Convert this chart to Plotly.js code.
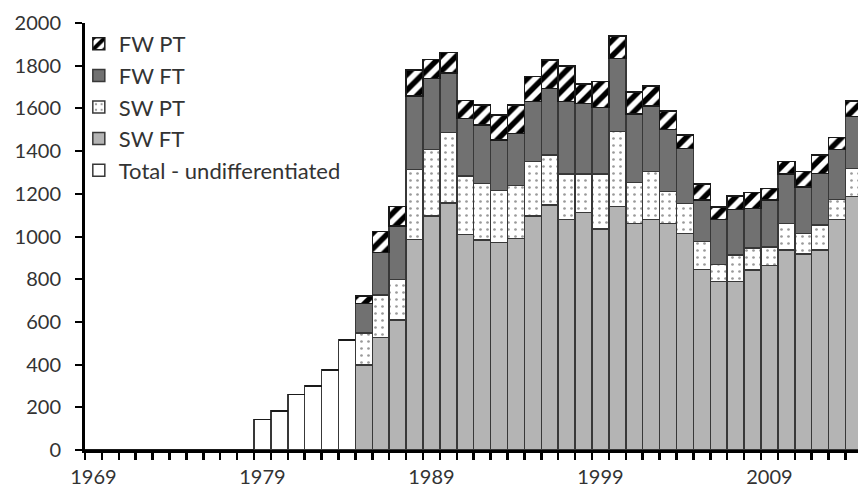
<!DOCTYPE html>
<html>
<head>
<meta charset="utf-8">
<script src="https://cdn.plot.ly/plotly-3.0.1.min.js"></script>
<style>html,body{margin:0;padding:0;background:#fff;}#chart{width:858px;height:490px;}</style>
</head>
<body>
<div id="chart"></div>
<script>
const years = [1969,1970,1971,1972,1973,1974,1975,1976,1977,1978,1979,1980,1981,1982,1983,1984,1985,1986,1987,1988,1989,1990,1991,1992,1993,1994,1995,1996,1997,1998,1999,2000,2001,2002,2003,2004,2005,2006,2007,2008,2009,2010,2011,2012,2013,2014];
const totalUndiff = [0,0,0,0,0,0,0,0,0,0,144,183,261,300,375,515,0,0,0,0,0,0,0,0,0,0,0,0,0,0,0,0,0,0,0,0,0,0,0,0,0,0,0,0,0,0];
const swFT = [0,0,0,0,0,0,0,0,0,0,0,0,0,0,0,0,398,528,609,987,1096,1158,1010,984,971,991,1096,1148,1080,1112,1034,1140,1062,1080,1062,1015,846,790,790,843,864,937,918,937,1080,1187];
const swPT = [0,0,0,0,0,0,0,0,0,0,0,0,0,0,0,0,151,198,190,328,312,328,273,265,244,247,255,234,213,181,259,351,192,224,148,140,130,79,123,102,88,125,97,117,94,132];
const fwFT = [0,0,0,0,0,0,0,0,0,0,0,0,0,0,0,0,137,198,250,343,333,281,270,273,237,245,281,312,339,331,312,343,320,307,292,258,195,210,214,187,219,231,218,242,234,242];
const fwPT = [0,0,0,0,0,0,0,0,0,0,0,0,0,0,0,0,35,99,91,122,89,96,83,94,117,133,117,133,167,90,120,105,104,94,87,62,75,60,63,73,54,58,71,86,56,74];
const xLabels = [1969,1979,1989,1999,2009];

const lineStyle = {color:'#383838', width:1.5};
const traces = [
  {name:'Total - undifferentiated', y: totalUndiff, marker:{color:'#ffffff', line:lineStyle}},
  {name:'SW FT', y: swFT, marker:{color:'#b4b4b4', line:lineStyle}},
  {name:'SW PT', y: swPT, marker:{color:'#ffffff', line:lineStyle, pattern:{shape:'.', fgcolor:'#9a9a9a', bgcolor:'#ffffff', size:7, solidity:0.12}}},
  {name:'FW FT', y: fwFT, marker:{color:'#717171', line:lineStyle}},
  {name:'FW PT', y: fwPT, marker:{color:'#ffffff', line:{color:'#1a1a1a', width:1.5}, pattern:{shape:'/', fgcolor:'#000000', bgcolor:'#ffffff', size:11, solidity:0.5}}}
].map(t => Object.assign({type:'bar', x: years, width: 1, hoverinfo:'none'}, t));

const layout = {
  width: 858, height: 490,
  margin: {l: 85, r: 0, t: 23, b: 40},
  paper_bgcolor: '#ffffff', plot_bgcolor: '#ffffff',
  barmode: 'stack', bargap: 0,
  font: {family: 'Lato, "Open Sans", sans-serif', size: 20, color: '#333333'},
  showlegend: true,
  legend: {x: -0.008, y: 1.0, xanchor: 'left', yanchor: 'top', traceorder: 'reversed',
           bgcolor: 'rgba(0,0,0,0)', font: {family: 'Lato, sans-serif', size: 22, color: '#333333'}},
  xaxis: {
    range: [1968.5, 2014.24], tickvals: xLabels, ticktext: xLabels.map(String),
    ticks: '', showline: true, linewidth: 3, linecolor: '#000000', showgrid: false, zeroline: false,
    ticklabelstandoff: 7,
    minor: {tick0: 1968.5, dtick: 1, ticks: 'outside', ticklen: 7, tickwidth: 2.5, tickcolor: '#000000', showgrid: false},
    tickfont: {family: 'Lato, sans-serif', size: 20, color: '#333333'}
  },
  yaxis: {
    range: [0, 2000], dtick: 200, tick0: 0, ticks: 'outside', ticklen: 7, tickwidth: 2, tickcolor: '#000000',
    showline: true, linewidth: 3, linecolor: '#000000', showgrid: false, zeroline: false,
    ticklabelstandoff: 10,
    tickfont: {family: 'Lato, sans-serif', size: 20, color: '#333333'}
  }
};
Plotly.newPlot('chart', traces, layout, {displayModeBar: false, staticPlot: true});
</script>
</body>
</html>
